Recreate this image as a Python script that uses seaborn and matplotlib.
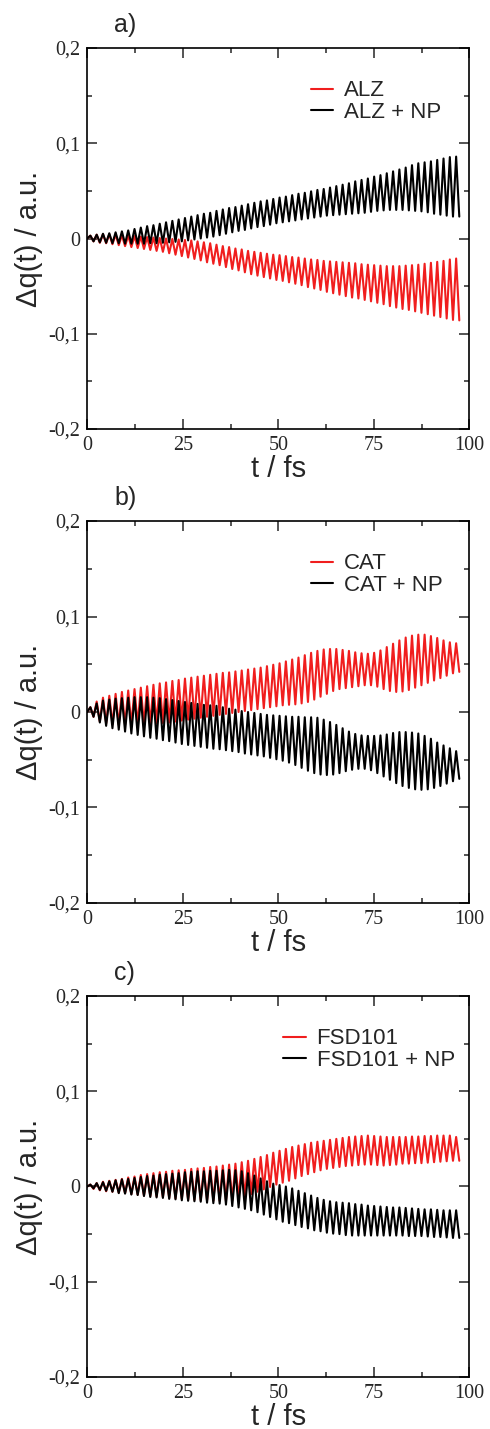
import numpy as np
import pandas as pd
import matplotlib
matplotlib.use('Agg')
import matplotlib.pyplot as plt
import seaborn as sns
from matplotlib.ticker import MultipleLocator, FuncFormatter

# --- Data: extrema of every oscillation cycle (units of 1e-3 a.u.) ---
# *_HI = maximum of cycle k, *_LO = following minimum; extrema are HALF_PERIOD fs apart
HALF_PERIOD = 0.825

ALZ_HI = [3, 4, 4.5, 4.5, 4, 3.5, 3, 2.5, 2, 1.5,
          1, 0.5, 0, -0.5, -1, -1.5, -2, -3, -4, -5,
          -6.5, -8, -9, -10.5, -11.5, -13, -14, -15, -16, -17,
          -17.5, -18.5, -19.5, -20, -21, -22, -22.5, -23.5, -24, -24.5,
          -25, -25.5, -26, -27, -27.5, -28, -28.5, -29, -29, -29,
          -28.5, -28, -27.5, -26.5, -25.5, -24.5, -23.5, -22, -21]
ALZ_LO = [-3, -4.5, -5, -6, -7, -8, -9, -10, -11, -12,
          -13, -14, -15.5, -17, -18.5, -20, -21.5, -23, -25, -26.5,
          -28, -30, -32, -33.5, -35.5, -37.5, -39, -40.5, -42, -43.5,
          -44.5, -46, -47.5, -49, -51, -52.5, -54, -56, -57.5, -59,
          -60.5, -62, -63, -64.5, -66, -67.5, -69, -71, -72.5, -74,
          -75, -76.5, -78, -79.5, -81, -82.5, -84, -85.5, -86]
ALZ_NP_HI = [3, 4, 5, 5.5, 6.5, 7.5, 8.5, 10, 11.5, 13,
             14, 15.5, 17, 18.5, 20, 21.5, 23, 24.5, 26, 27,
             29, 30.5, 32, 33, 34.5, 36, 37.5, 39, 40, 41.5,
             43, 44, 45.5, 47, 48, 49.5, 51, 52, 53.5, 55,
             56.5, 58, 60, 61.5, 63, 65, 66.5, 68.5, 70.5, 72.5,
             74.5, 77, 79, 80, 81, 82.5, 84, 85.5, 86]
ALZ_NP_LO = [-3, -4, -4.5, -5, -5, -5.5, -5.5, -5.5, -5.5, -5,
             -5, -4.5, -4, -3.5, -3, -2, -1, 0, 1, 2,
             3.5, 5, 6.5, 8, 9, 10.5, 12, 13, 14.5, 16,
             17, 18, 19, 20, 21, 22, 23, 24, 24.5, 25,
             25.5, 26, 26.5, 27, 28, 29, 29.5, 30, 30, 30,
             29.5, 29, 28.5, 27.5, 26, 25, 24, 23, 23]

CAT_HI = [5, 11, 15, 17, 19, 21, 22.5, 24, 25.5, 27,
          28.5, 30, 31, 32.5, 33.5, 35, 36, 37, 38, 39,
          40, 41, 41.5, 42.5, 43.5, 44.5, 45.5, 46.5, 48, 49.5,
          51, 53, 55, 57, 59.5, 62, 64, 65.5, 66, 66,
          65, 64, 62.5, 61.5, 61, 62, 64.5, 68, 71.5, 75,
          78, 80, 81, 81, 79.5, 77.5, 75, 73, 72]
CAT_LO = [-5, -10, -12, -13, -13.5, -13.5, -13.5, -13, -13, -12.5,
          -12, -11.5, -11, -10, -9, -8, -7, -6, -5, -4,
          -3, -2, -1, 0, 1, 2, 3, 4, 5, 6,
          7, 7.5, 8, 9, 10.5, 13, 16, 19, 22, 24,
          25, 26, 27, 28, 28, 26.5, 24, 22, 21, 21.5,
          23, 25.5, 28, 30.5, 33, 35.5, 38, 40.5, 42]
CAT_NP_HI = [5, 9, 12, 13, 14, 14.5, 15, 15.5, 15.5, 15.5,
             15, 14.5, 13.5, 12.5, 11.5, 10.5, 9.5, 8.5, 7.5, 7,
             6.5, 5, 3.5, 2.5, 1, 0, -1, -2, -3, -3.5,
             -4, -4.5, -5, -5, -5.5, -5.5, -6, -8, -10.5, -13.5,
             -17, -20.5, -23, -24.5, -25, -25, -24.5, -23.5, -22, -21,
             -21, -21.5, -22.5, -25, -28, -32, -35, -38, -41]
CAT_NP_LO = [-5, -11, -14.5, -17, -18.5, -20.5, -22.5, -24, -25.5, -27,
             -28, -29.5, -30.5, -32, -33.5, -34.5, -35.5, -36.5, -37.5, -38.5,
             -39, -40, -41, -42, -43.5, -44.5, -45.5, -46.5, -48, -49.5,
             -51, -53, -55.5, -58.5, -61.5, -64, -65.5, -66, -65.5, -64,
             -62, -60.5, -59.5, -59.5, -61, -64, -67.5, -71, -74.5, -77.5,
             -79.5, -81, -81.5, -81, -79.5, -77.5, -75, -72.5, -70]

FSD_HI = [2, 3.5, 5, 6, 7, 8, 9.5, 10.5, 12, 13,
          14, 15, 15.5, 16.5, 17, 17.5, 18.5, 19, 19.5, 20.5,
          21, 22, 23, 24, 25.5, 27, 29, 31, 33, 35.5,
          37.5, 39.5, 41.5, 43, 44.5, 46, 47, 48, 49, 50,
          51, 52, 52.5, 53, 53.5, 53, 52.5, 52, 52, 52,
          52, 52.5, 52.5, 53, 53, 53.5, 53.5, 53.5, 52]
FSD_LO = [-2.5, -4, -5, -5.5, -6.5, -7, -8, -8.5, -9.5, -10,
          -10.5, -11, -12, -12.5, -13, -14, -14, -14.5, -14.5, -15,
          -15, -15, -14.5, -13, -10.5, -8, -5.5, -3, -0.5, 2,
          4, 6, 8.5, 11, 13, 15, 17, 18.5, 19.5, 20.5,
          21.5, 22, 22.5, 23, 23, 22.5, 22, 22.5, 23, 24,
          24, 24.5, 24.5, 25, 25.5, 26, 26.5, 27, 27]
FSD_NP_HI = [2, 3.5, 4.5, 5.5, 6.5, 7.5, 8, 9, 10, 11,
             11.5, 12.5, 13, 13.5, 14, 15, 15.5, 16, 16, 16.5,
             16.5, 17, 17.5, 17, 16, 14, 11.5, 8.5, 5.5, 3,
             1.5, 0, -2, -4.5, -7, -9.5, -12, -14, -15.5, -16.5,
             -17, -17.5, -18.5, -19, -20, -20.5, -21, -21.5, -22, -22,
             -22.5, -23, -23.5, -24, -24, -24.5, -25, -25, -25]
FSD_NP_LO = [-2, -3.5, -4.5, -5.5, -7, -7.5, -8.5, -9, -10, -11,
             -11.5, -12, -13, -13.5, -14.5, -15, -15.5, -16, -17, -17.5,
             -18, -19, -20.5, -22, -23.5, -25, -27, -29.5, -32, -34.5,
             -37, -38.5, -40.5, -42.5, -44, -46, -47, -48.5, -49.5, -50,
             -51, -51.5, -51.5, -51.5, -51.5, -51.5, -51.5, -51.5, -51.5, -51.5,
             -52, -52, -52, -52.5, -53, -53, -53.5, -54, -54]

PANEL_LABELS = ["a)", "b)", "c)"]
SERIES_NAMES = [("ALZ", "ALZ + NP"), ("CAT", "CAT + NP"), ("FSD101", "FSD101 + NP")]
SERIES_DATA = [((ALZ_HI, ALZ_LO), (ALZ_NP_HI, ALZ_NP_LO)),
               ((CAT_HI, CAT_LO), (CAT_NP_HI, CAT_NP_LO)),
               ((FSD_HI, FSD_LO), (FSD_NP_HI, FSD_NP_LO))]

X_TICKS = [0, 25, 50, 75, 100]
Y_TICKS = [-0.2, -0.1, 0, 0.1, 0.2]


def trace(hi, lo):
    q = np.zeros(2 * len(hi) + 1)
    q[1::2] = hi
    q[2::2] = lo
    t = np.arange(len(q)) * HALF_PERIOD
    return t, q * 1e-3


def comma_fmt(v, pos):
    if abs(v) < 1e-9:
        return "0"
    return f"{v:.1f}".replace(".", ",")


sns.set_style("ticks")
plt.rcParams['font.family'] = ['Liberation Sans', 'DejaVu Sans']
plt.rcParams['axes.unicode_minus'] = False

RED = '#f01e1e'
fig = plt.figure(figsize=(4.9, 14.29), dpi=100)

rects = [[0.178, 0.6998, 0.780, 0.2666],
         [0.178, 0.3681, 0.780, 0.2673],
         [0.178, 0.0364, 0.780, 0.2666]]
legend_x = [0.585, 0.585, 0.513]

for i, rect in enumerate(rects):
    ax = fig.add_axes(rect)
    frames = []
    for name, (hi, lo) in zip(SERIES_NAMES[i], SERIES_DATA[i]):
        t, q = trace(hi, lo)
        frames.append(pd.DataFrame({'t': t, 'dq': q, 'series': name}))
    df = pd.concat(frames, ignore_index=True)

    sns.lineplot(data=df, x='t', y='dq', hue='series', palette=[RED, 'black'],
                 estimator=None, sort=False, lw=1.5, ax=ax)

    ax.set_xlim(0, 100)
    ax.set_ylim(-0.2, 0.2)
    ax.set_xticks(X_TICKS)
    ax.set_yticks(Y_TICKS)
    ax.xaxis.set_minor_locator(MultipleLocator(12.5))
    ax.yaxis.set_minor_locator(MultipleLocator(0.05))
    ax.yaxis.set_major_formatter(FuncFormatter(comma_fmt))
    ax.tick_params(which='both', direction='in', top=True, right=True, width=1.1)
    ax.tick_params(which='major', length=7, pad=5)
    ax.tick_params(which='minor', length=3.5)
    for lab in ax.get_xticklabels() + ax.get_yticklabels():
        lab.set_fontfamily(['Liberation Serif', 'DejaVu Serif'])
        lab.set_fontsize(14.5)
    for sp in ax.spines.values():
        sp.set_linewidth(1.2)
        sp.set_color('black')

    ax.set_xlabel("t / fs", fontsize=21, labelpad=0)
    ax.set_ylabel("Δq(t) / a.u.", fontsize=21, labelpad=4)
    ax.text(0.07, 1.03, PANEL_LABELS[i], transform=ax.transAxes,
            fontsize=18, ha='left', va='bottom')

    ax.legend(loc='upper left', bbox_to_anchor=(legend_x[i], 0.915), frameon=False,
              fontsize=16, handlelength=1.0, handletextpad=0.5, labelspacing=0.03,
              borderpad=0, borderaxespad=0)

plt.savefig("out.png", dpi=100)
plt.close()
